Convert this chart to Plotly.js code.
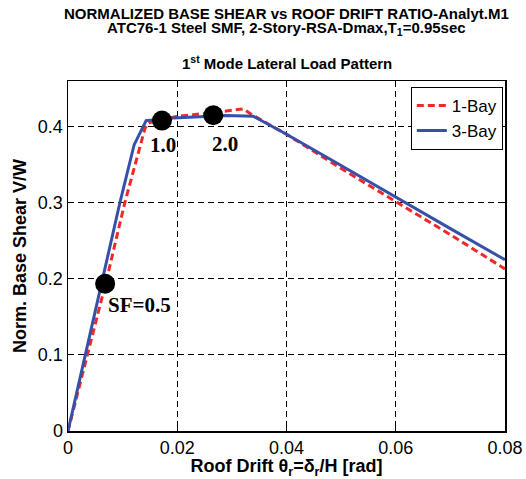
<!DOCTYPE html>
<html>
<head>
<meta charset="utf-8">
<script src="https://cdn.plot.ly/plotly-3.0.1.min.js"></script>
<style>html,body{margin:0;padding:0;background:#fff;}#chart{width:526px;height:479px;}</style>
</head>
<body>
<div id="chart"></div>
<script>
// 1-Bay (red dashed)
var bay1X = [0, 0.0071, 0.0104, 0.0141, 0.0148, 0.0196, 0.0284, 0.0321, 0.0336, 0.040, 0.050, 0.060, 0.070, 0.080];
var bay1Y = [0, 0.200, 0.300, 0.398, 0.405, 0.413, 0.420, 0.4234, 0.416, 0.390, 0.345, 0.302, 0.258, 0.213];
// 3-Bay (blue solid)
var bay3X = [0, 0.00635, 0.0095, 0.0121, 0.0143, 0.0193, 0.0290, 0.0339, 0.040, 0.050, 0.060, 0.070, 0.080];
var bay3Y = [0, 0.200, 0.300, 0.376, 0.408, 0.4115, 0.4147, 0.4138, 0.390, 0.349, 0.307, 0.266, 0.225];
// scale-factor markers
var sfX = [0.0068, 0.0172, 0.0266];
var sfY = [0.1936, 0.408, 0.415];
var sfLabels = ['SF=0.5', '1.0', '2.0'];
var xTicks = [0, 0.02, 0.04, 0.06, 0.08];
var xTickText = ['0', '0.02', '0.04', '0.06', '0.08'];
var yTicks = [0, 0.1, 0.2, 0.3, 0.4];
var yTickText = ['0', '0.1', '0.2', '0.3', '0.4'];
var titleLines = [
  'NORMALIZED BASE SHEAR vs ROOF DRIFT RATIO-Analyt.M1',
  'ATC76-1 Steel SMF, 2-Story-RSA-Dmax,T<sub>1</sub>=0.95sec',
  '1<sup>st</sup> Mode Lateral Load Pattern'
];

var SANS = 'Liberation Sans, Arial, sans-serif';
var SERIF = 'Liberation Serif, Times New Roman, serif';

var traces = [
  {x: bay1X, y: bay1Y, mode: 'lines', name: '1-Bay', line: {color: '#f02828', width: 3, dash: '7px,4px'}},
  {x: bay3X, y: bay3Y, mode: 'lines', name: '3-Bay', line: {color: '#3550a8', width: 3}},
  {x: sfX, y: sfY, mode: 'markers', showlegend: false, marker: {color: '#000', size: 20}}
];

var labelOffsets = [[34, 21], [1, 24], [12, 29]];
var annotations = sfLabels.map(function (t, i) {
  return {x: sfX[i], y: sfY[i], xref: 'x', yref: 'y', text: '<b>' + t + '</b>', showarrow: false,
    xanchor: 'center', yanchor: 'middle', xshift: labelOffsets[i][0], yshift: -labelOffsets[i][1],
    font: {family: SERIF, size: 21, color: '#000'}};
});
var titleY = [1.192, 1.149, 1.054];
titleLines.forEach(function (t, i) {
  annotations.push({x: 0.5, y: titleY[i], xref: 'paper', yref: 'paper', xanchor: 'center', yanchor: 'middle',
    text: '<b>' + t + '</b>', showarrow: false, font: {family: SANS, size: 15, color: '#000'}});
});

var axisCommon = {
  showline: true, linecolor: '#000', linewidth: 1.5, mirror: 'ticks',
  ticks: 'inside', ticklen: 5, tickcolor: '#000',
  showgrid: true, gridcolor: '#000', gridwidth: 1, griddash: '6px,4px',
  zeroline: false, tickfont: {family: SANS, size: 18, color: '#000'}
};

var layout = {
  width: 526, height: 479,
  margin: {l: 68, r: 21, t: 81, b: 48},
  paper_bgcolor: '#fff', plot_bgcolor: '#fff',
  xaxis: Object.assign({}, axisCommon, {range: [0, 0.08], tickvals: xTicks, ticktext: xTickText,
    title: {text: '<b>Roof Drift θ<sub>r</sub>=δ<sub>r</sub>/H [rad]</b>', standoff: 0,
      font: {family: SANS, size: 18, color: '#000'}}}),
  yaxis: Object.assign({}, axisCommon, {range: [0, 0.46], tickvals: yTicks, ticktext: yTickText,
    title: {text: '<b>Norm. Base Shear V/W</b>', standoff: 6,
      font: {family: SANS, size: 18, color: '#000'}}}),
  legend: {x: 0.995, xanchor: 'right', y: 0.983, yanchor: 'top', bgcolor: '#fff', bordercolor: '#000', borderwidth: 1,
    font: {family: SANS, size: 17, color: '#000'}, tracegroupgap: 0},
  annotations: annotations,
  showlegend: true
};

Plotly.newPlot('chart', traces, layout, {displayModeBar: false, staticPlot: true});
</script>
</body>
</html>
